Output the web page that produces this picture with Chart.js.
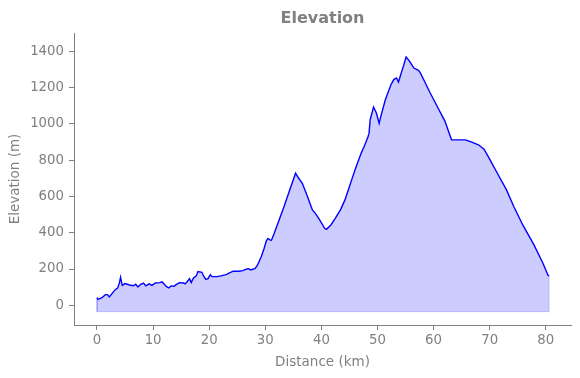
<!DOCTYPE html>
<html>
<head>
<meta charset="utf-8">
<title>Elevation</title>
<script src="https://cdn.jsdelivr.net/npm/chart.js@4"></script>
<style>
  html, body { margin: 0; padding: 0; background: #ffffff; }
  #wrap { width: 580px; height: 378px; }
</style>
</head>
<body>
<div id="wrap"><canvas id="elevationChart" width="580" height="378"></canvas></div>
<script>
// Elevation profile
const distanceKm = [
    0, 0.2, 0.86, 1.5, 1.85, 2.2, 2.6, 3.2, 3.7, 4.0, 4.2, 4.5, 5.0, 5.8, 6.5, 6.9, 7.3, 7.8, 8.3, 8.7,
    9.3, 9.8, 10.4, 11.2, 11.6, 12.0, 12.4, 12.8, 13.2, 13.75, 14.1, 14.7, 15.4, 15.7, 16.1, 16.5, 16.8, 17.2, 17.7, 18.0,
    18.7, 19.0, 19.4, 19.8, 20.2, 20.5, 21.4, 22.1, 23.0, 23.7, 24.3, 25.3, 26.0, 26.6, 27.0, 27.4, 28.2, 28.6, 29.3, 29.8,
    30.2, 30.5, 30.8, 31.1, 31.6, 32.4, 33.3, 34.2, 35.4, 35.9, 36.6, 37.4, 38.4, 38.9, 39.7, 40.6, 40.9, 41.7, 42.5, 43.4,
    44.2, 44.8, 45.5, 46.1, 47.1, 47.7, 48.3, 48.5, 48.7, 49.3, 49.8, 50.3, 50.6, 51.4, 52.4, 52.9, 53.4, 53.75, 54.2, 54.7,
    55.1, 55.6, 55.9, 56.5, 57.3, 57.6, 58.4, 59.4, 60.7, 62.0, 63.2, 64.0, 65.7, 66.7, 68.0, 69.0, 70.0, 71.3, 73.0, 74.3,
    75.9, 77.9, 79.5, 80.4, 80.6
];
const elevationM = [
    42, 33, 42, 59, 59, 46, 62, 85, 96, 125, 155, 110, 120, 112, 108, 116, 101, 116, 123, 107,
    118, 110, 123, 125, 129, 116, 103, 96, 107, 105, 114, 125, 123, 118, 131, 147, 125, 151, 162, 186,
    182, 162, 143, 147, 169, 158, 158, 162, 169, 180, 188, 188, 191, 199, 202, 195, 204, 221, 269, 315,
    357, 368, 361, 359, 397, 465, 541, 622, 728, 703, 673, 609, 526, 508, 471, 423, 419, 443, 480, 526,
    581, 636, 701, 756, 839, 881, 927, 949, 1023, 1093, 1060, 1004, 1041, 1133, 1216, 1244, 1253, 1231, 1277, 1326,
    1369, 1350, 1336, 1308, 1295, 1284, 1234, 1170, 1093, 1017, 912, 912, 912, 901, 885, 861, 806, 732, 636, 545,
    443, 333, 232, 166, 162
];
const fillBase = -35;
const xTickValues = [0, 10, 20, 30, 40, 50, 60, 70, 80];
const yTickValues = [0, 200, 400, 600, 800, 1000, 1200, 1400];

const textGray = '#808080';
const xRange = { min: -4.1, max: 84.5 };

const profilePoints = distanceKm.map((d, i) => ({ x: d, y: elevationM[i] }));
const lastIdx = distanceKm.length - 1;
// outline of the filled polygon (left edge, base, right edge)
const fillEdge = [
    { x: distanceKm[0], y: elevationM[0] },
    { x: distanceKm[0], y: fillBase },
    { x: distanceKm[lastIdx], y: fillBase },
    { x: distanceKm[lastIdx], y: elevationM[lastIdx] }
];

function initializeChart() {
    const ctx = document.getElementById('elevationChart');
    new Chart(ctx, {
        type: 'line',
        data: {
            datasets: [
                {
                    label: 'Elevation',
                    data: profilePoints,
                    borderColor: '#0000ff',
                    borderWidth: 1.4,
                    backgroundColor: 'rgba(0, 0, 255, 0.2)',
                    fill: { value: fillBase },
                    pointRadius: 0,
                    tension: 0
                },
                {
                    label: 'edge',
                    data: fillEdge,
                    borderColor: 'rgba(0, 0, 255, 0.18)',
                    borderWidth: 1,
                    fill: false,
                    pointRadius: 0,
                    tension: 0
                }
            ]
        },
        options: {
            responsive: false,
            animation: false,
            layout: {
                padding: { left: 0, right: 9, top: 0, bottom: 0 }
            },
            scales: {
                x: {
                    type: 'linear',
                    min: xRange.min,
                    max: xRange.max,
                    afterBuildTicks: function(scale) {
                        scale.ticks = xTickValues.map(v => ({ value: v }));
                    },
                    afterFit: function(scale) {
                        scale.height = 53;
                    },
                    border: { display: true, color: textGray, width: 1 },
                    grid: {
                        drawOnChartArea: false,
                        drawTicks: true,
                        tickLength: 5,
                        color: textGray
                    },
                    ticks: {
                        color: textGray,
                        padding: 3,
                        maxRotation: 0,
                        font: { family: 'DejaVu Sans', size: 13.3 }
                    },
                    title: {
                        display: true,
                        text: 'Distance (km)',
                        color: textGray,
                        padding: { top: 0, bottom: 7 },
                        font: { family: 'DejaVu Sans', size: 13.5 }
                    }
                },
                // top axis only carries the chart title, centred over the plot area
                titleAxis: {
                    type: 'linear',
                    position: 'top',
                    min: xRange.min,
                    max: xRange.max,
                    afterFit: function(scale) {
                        scale.height = 33;
                    },
                    border: { display: false },
                    grid: { display: false, drawTicks: false },
                    ticks: { display: false },
                    title: {
                        display: true,
                        text: 'Elevation',
                        color: textGray,
                        padding: { top: 9, bottom: 5 },
                        font: { family: 'DejaVu Sans', size: 16, weight: 'bold' }
                    }
                },
                y: {
                    type: 'linear',
                    min: -108.5,
                    max: 1501,
                    afterBuildTicks: function(scale) {
                        scale.ticks = yTickValues.map(v => ({ value: v }));
                    },
                    afterFit: function(scale) {
                        scale.width = 74;
                    },
                    border: { display: true, color: textGray, width: 1 },
                    grid: {
                        drawOnChartArea: false,
                        drawTicks: true,
                        tickLength: 5,
                        color: textGray
                    },
                    ticks: {
                        color: textGray,
                        padding: 5,
                        font: { family: 'DejaVu Sans', size: 13.3 },
                        callback: function(value) {
                            return String(value);
                        }
                    },
                    title: {
                        display: true,
                        text: 'Elevation (m)',
                        color: textGray,
                        padding: { top: 7, bottom: 0 },
                        font: { family: 'DejaVu Sans', size: 13.5 }
                    }
                }
            },
            plugins: {
                legend: { display: false },
                tooltip: { enabled: false },
                title: { display: false }
            }
        }
    });
}

if (document.readyState === 'loading') {
    document.addEventListener('DOMContentLoaded', initializeChart);
} else {
    initializeChart();
}
</script>
</body>
</html>
